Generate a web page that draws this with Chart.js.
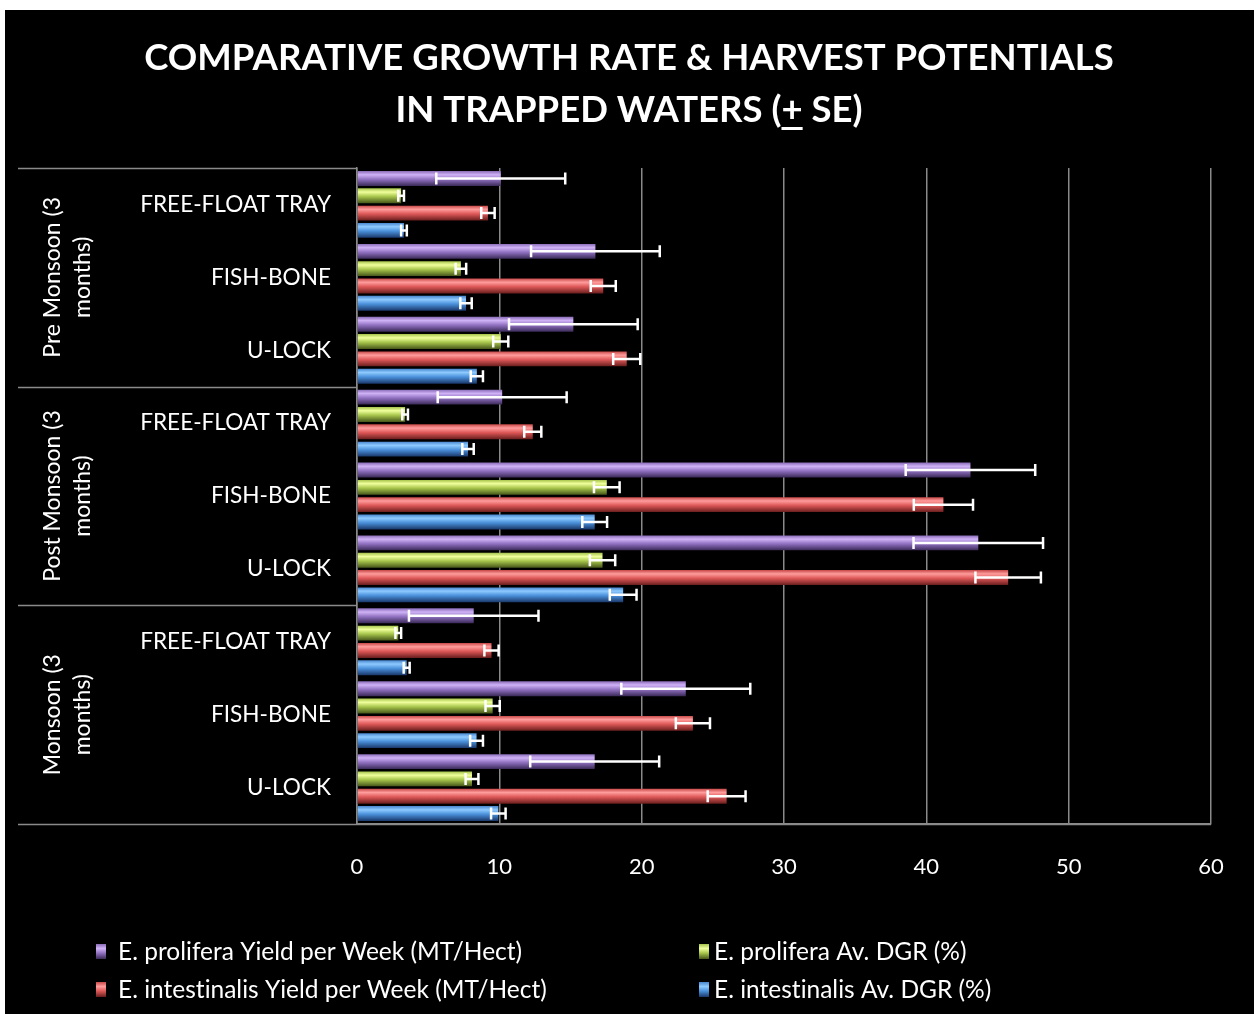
<!DOCTYPE html>
<html><head><meta charset="utf-8">
<script src="https://cdn.jsdelivr.net/npm/chart.js@4.4.1/dist/chart.umd.min.js"></script>
<style>html,body{margin:0;padding:0;background:#fff;}canvas{display:block;}</style>
</head><body>
<canvas id="c" width="1259" height="1014"></canvas>
<script>
// ---------- data ----------
const titleLines = ["COMPARATIVE GROWTH RATE & HARVEST POTENTIALS", "IN TRAPPED WATERS (+ SE)"];
const categories = ["FREE-FLOAT TRAY", "FISH-BONE", "U-LOCK",
                    "FREE-FLOAT TRAY", "FISH-BONE", "U-LOCK",
                    "FREE-FLOAT TRAY", "FISH-BONE", "U-LOCK"];
const groupLabels = [["Pre Monsoon (3", "months)"], ["Post Monsoon (3", "months)"], ["Monsoon (3", "months)"]];
const groupSizes = [3, 3, 3];
const xTickValues = [0, 10, 20, 30, 40, 50, 60];
const seriesNames = ["E. prolifera Yield per Week (MT/Hect)", "E. prolifera Av. DGR (%)",
                     "E. intestinalis Yield per Week (MT/Hect)", "E. intestinalis Av. DGR (%)"];
const prolYield    = [10.1, 16.75, 15.2, 10.2, 43.1, 43.65, 8.2, 23.1, 16.7];
const prolYieldErr = [4.53, 4.52, 4.52, 4.53, 4.55, 4.55, 4.55, 4.53, 4.53];
const prolDGR      = [3.1, 7.3, 10.1, 3.38, 17.55, 17.25, 2.9, 9.53, 8.08];
const prolDGRErr   = [0.2, 0.37, 0.53, 0.2, 0.9, 0.89, 0.2, 0.5, 0.45];
const intYield     = [9.2, 17.3, 18.95, 12.35, 41.2, 45.75, 9.45, 23.6, 25.97];
const intYieldErr  = [0.47, 0.88, 0.95, 0.6, 2.08, 2.3, 0.5, 1.2, 1.33];
const intDGR       = [3.3, 7.66, 8.42, 7.8, 16.7, 18.7, 3.49, 8.4, 9.93];
const intDGRErr    = [0.2, 0.4, 0.43, 0.4, 0.87, 0.94, 0.21, 0.45, 0.51];

// ---------- styles ----------
const FONT = 'Lato, "Open Sans", sans-serif';
const palette = [
  ['#8a6cb8', '#cfb2f6', '#9272c2', '#3a2a58'],
  ['#a6c44c', '#f0ff9c', '#a8c64c', '#46561a'],
  ['#c84848', '#ff9c9c', '#de5858', '#6a1e1e'],
  ['#4886ce', '#8ecaff', '#4a90da', '#1a386a']
];
const stopsPos = [0, 0.25, 0.55, 1];
function barGradient(cols) {
  return function (ctx) {
    const el = ctx.element;
    if (!el || typeof el.y !== 'number' || !el.height || isNaN(el.y)) return cols[2];
    const g = ctx.chart.ctx.createLinearGradient(0, el.y - el.height / 2, 0, el.y + el.height / 2);
    cols.forEach((c, i) => g.addColorStop(stopsPos[i], c));
    return g;
  };
}

const values = [prolYield, prolDGR, intYield, intDGR];
const errors = [prolYieldErr, prolDGRErr, intYieldErr, intDGRErr];

const datasets = seriesNames.map((name, i) => ({
  label: name,
  data: values[i],
  errors: errors[i],
  backgroundColor: barGradient(palette[i]),
  borderWidth: 0,
  categoryPercentage: 0.95,
  barPercentage: 0.86
}));

const GRID = '#8a8a8a';

const decor = {
  id: 'decor',
  beforeDraw(chart) {
    const c = chart.ctx;
    c.save();
    c.fillStyle = '#ffffff';
    c.fillRect(0, 0, chart.width, chart.height);
    c.fillStyle = '#000000';
    c.fillRect(5, 10, 1249, 1004);
    c.restore();
  },
  afterDraw(chart) {
    const c = chart.ctx;
    const ys = chart.scales.y;
    const area = chart.chartArea;
    c.save();
    // title
    c.fillStyle = '#ffffff';
    c.font = 'bold 36.5px ' + FONT;
    c.textAlign = 'center';
    c.textBaseline = 'middle';
    c.fillText(titleLines[0], 629, 58);
    c.fillText(titleLines[1], 629, 110);
    // underline the "+"
    const full = c.measureText(titleLines[1]).width;
    const idx = titleLines[1].indexOf('+');
    const pre = c.measureText(titleLines[1].slice(0, idx)).width;
    const pw = c.measureText('+').width;
    const sx = 629 - full / 2 + pre;
    c.fillRect(sx, 127, pw, 3);

    // group separators on the left
    c.strokeStyle = GRID;
    c.lineWidth = 1.5;
    const left = 18;
    let idx0 = 0;
    const bounds = [area.top];
    groupSizes.forEach(n => {
      idx0 += n;
      if (idx0 < categories.length) {
        bounds.push((ys.getPixelForValue(idx0 - 1) + ys.getPixelForValue(idx0)) / 2);
      } else bounds.push(area.bottom);
    });
    c.beginPath();
    bounds.forEach((b, i) => {
      const yy = Math.round(b) + 0.5;
      c.moveTo(left, yy);
      c.lineTo(i === bounds.length - 1 ? area.right : area.left, yy);
    });
    c.stroke();

    // group labels (rotated)
    c.fillStyle = '#ffffff';
    c.font = '23px ' + FONT;
    c.textAlign = 'center';
    c.textBaseline = 'middle';
    groupLabels.forEach((lines, gi) => {
      const cy = (bounds[gi] + bounds[gi + 1]) / 2;
      lines.forEach((ln, li) => {
        c.save();
        c.translate(53 + li * 30, cy);
        c.rotate(-Math.PI / 2);
        c.fillText(ln, 0, 0);
        c.restore();
      });
    });

    // legend
    const legPos = [[96, 952, 118], [699, 952, 714], [96, 990, 118], [699, 990, 714]];
    c.font = '24.5px ' + FONT;
    c.textAlign = 'left';
    c.textBaseline = 'middle';
    try { c.textRendering = 'optimizeSpeed'; } catch (e) {}
    seriesNames.forEach((name, i) => {
      const [lx, ly, tx] = legPos[i];
      const g = c.createLinearGradient(0, ly - 8, 0, ly + 7);
      g.addColorStop(0, palette[i][0]);
      g.addColorStop(0.3, palette[i][1]);
      g.addColorStop(0.6, palette[i][2]);
      g.addColorStop(1, palette[i][3]);
      c.fillStyle = g;
      c.fillRect(lx, ly - 8, 10, 15);
      c.fillStyle = '#ffffff';
      c.fillText(name, tx, ly);
    });
    c.restore();
  },
  afterDatasetsDraw(chart) {
    const c = chart.ctx;
    const xs = chart.scales.x;
    c.save();
    c.strokeStyle = '#ffffff';
    c.lineWidth = 2.5;
    chart.data.datasets.forEach((ds, di) => {
      const meta = chart.getDatasetMeta(di);
      meta.data.forEach((el, i) => {
        const v = ds.data[i], e = ds.errors[i];
        const x0 = xs.getPixelForValue(v - e), x1 = xs.getPixelForValue(v + e);
        const y = el.y;
        c.beginPath();
        c.moveTo(x0, y); c.lineTo(x1, y);
        c.moveTo(x0, y - 6); c.lineTo(x0, y + 6);
        c.moveTo(x1, y - 6); c.lineTo(x1, y + 6);
        c.stroke();
      });
    });
    c.restore();
  }
};

const chart = new Chart(document.getElementById('c'), {
  type: 'bar',
  data: { labels: categories, datasets },
  options: {
    indexAxis: 'y',
    responsive: false,
    animation: false,
    devicePixelRatio: 1,
    layout: { padding: { top: 168, right: 48, bottom: 130, left: 0 } },
    plugins: { legend: { display: false }, title: { display: false }, tooltip: { enabled: false } },
    scales: {
      x: {
        min: 0, max: 60,
        afterBuildTicks: s => { s.ticks = xTickValues.map(v => ({ value: v })); },
        afterFit: s => { s.height = 60; },
        grid: { color: GRID, lineWidth: 1.5, drawTicks: false },
        border: { display: true, color: GRID, width: 1.5 },
        ticks: { color: '#ffffff', font: { family: FONT, size: 22 }, padding: 30 }
      },
      y: {
        afterFit: s => { s.width = 357; },
        grid: { display: false, drawTicks: false },
        border: { display: true, color: GRID, width: 1.5 },
        ticks: { color: '#ffffff', font: { family: FONT, size: 22.6 }, padding: 26, autoSkip: false }
      }
    }
  },
  plugins: [decor]
});
chart.update();
</script>
</body></html>
